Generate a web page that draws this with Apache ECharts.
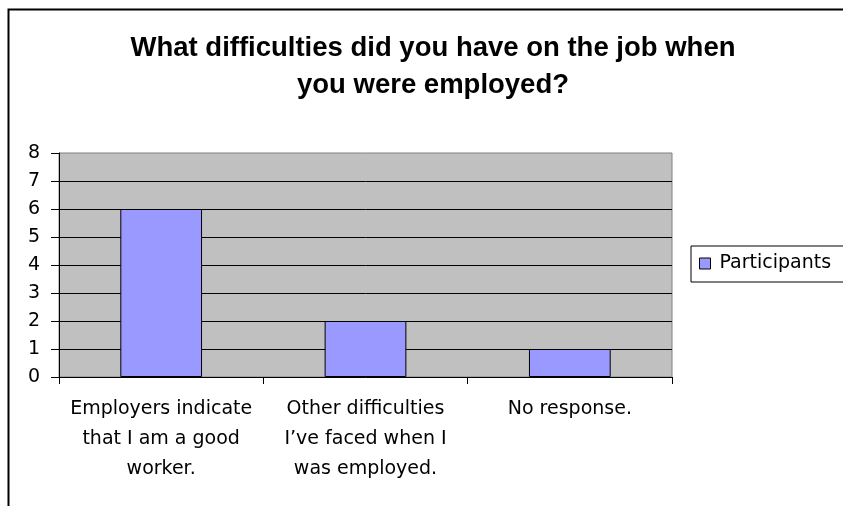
<!DOCTYPE html>
<html>
<head>
<meta charset="utf-8">
<script src="https://cdn.jsdelivr.net/npm/echarts@6/dist/echarts.min.js"></script>
<style>
  html, body { margin: 0; padding: 0; background: #fff; }
  #chart { width: 843px; height: 506px; }
</style>
</head>
<body>
<div id="chart"></div>
<script>
// Survey answers: number of participants per response
const titleText = 'What difficulties did you have on the job when\nyou were employed?';
const categories = [
  'Employers indicate\nthat I am a good\nworker.',
  'Other difficulties\nI’ve faced when I\nwas employed.',
  'No response.'
];
const seriesName = 'Participants';
const participants = [6, 2, 1];
const yTicks = [0, 1, 2, 3, 4, 5, 6, 7, 8];

const labelFont = 'DejaVu Sans';
const chart = echarts.init(document.getElementById('chart'), null, { renderer: 'canvas' });

chart.setOption({
  animation: false,
  backgroundColor: '#ffffff',
  title: {
    text: titleText,
    left: 428,
    top: 25,
    textAlign: 'center',
    textStyle: {
      fontFamily: 'Liberation Sans',
      fontWeight: 'bold',
      fontSize: 27.5,
      lineHeight: 37,
      color: '#000'
    }
  },
  legend: {
    left: 691,
    top: 246,
    orient: 'vertical',
    padding: [8, 24, 9, 8],
    borderColor: '#000',
    borderWidth: 1,
    backgroundColor: '#fff',
    icon: 'rect',
    itemWidth: 11,
    itemHeight: 11,
    itemStyle: { borderColor: '#000', borderWidth: 1 },
    textStyle: {
      fontFamily: labelFont,
      fontSize: 19,
      color: '#000',
      padding: [0, 0, 0, 4]
    },
    data: [seriesName]
  },
  grid: {
    left: 59,
    top: 153,
    width: 613,
    height: 224,
    show: true,
    backgroundColor: '#C0C0C0',
    borderColor: '#808080',
    borderWidth: 1,
    containLabel: false
  },
  xAxis: {
    type: 'category',
    data: categories,
    axisLine: { show: true, lineStyle: { color: '#000', width: 1 } },
    axisTick: { show: true, length: 7, alignWithLabel: false, lineStyle: { color: '#000' } },
    axisLabel: {
      margin: 17,
      interval: 0,
      fontFamily: labelFont,
      fontSize: 19,
      lineHeight: 30,
      color: '#000',
      align: 'center'
    },
    splitLine: { show: false }
  },
  yAxis: {
    type: 'value',
    min: yTicks[0],
    max: yTicks[yTicks.length - 1],
    interval: 1,
    axisLine: { show: true, lineStyle: { color: '#000', width: 1 } },
    axisTick: { show: true, length: 8, lineStyle: { color: '#000' } },
    axisLabel: {
      margin: 19,
      fontFamily: labelFont,
      fontSize: 19,
      color: '#000'
    },
    splitLine: {
      show: true,
      showMinLine: false,
      showMaxLine: false,
      lineStyle: { color: '#000', width: 1 }
    }
  },
  series: [{
    name: seriesName,
    type: 'bar',
    data: participants,
    barWidth: '40%',
    itemStyle: {
      color: '#9999FF',
      borderColor: '#000',
      borderWidth: 1
    }
  }],
  graphic: [{
    type: 'polyline',
    silent: true,
    shape: { points: [[8.5, 506], [8.5, 9.5], [843, 9.5]] },
    style: { stroke: '#000', lineWidth: 2, fill: null }
  }]
});
</script>
</body>
</html>
